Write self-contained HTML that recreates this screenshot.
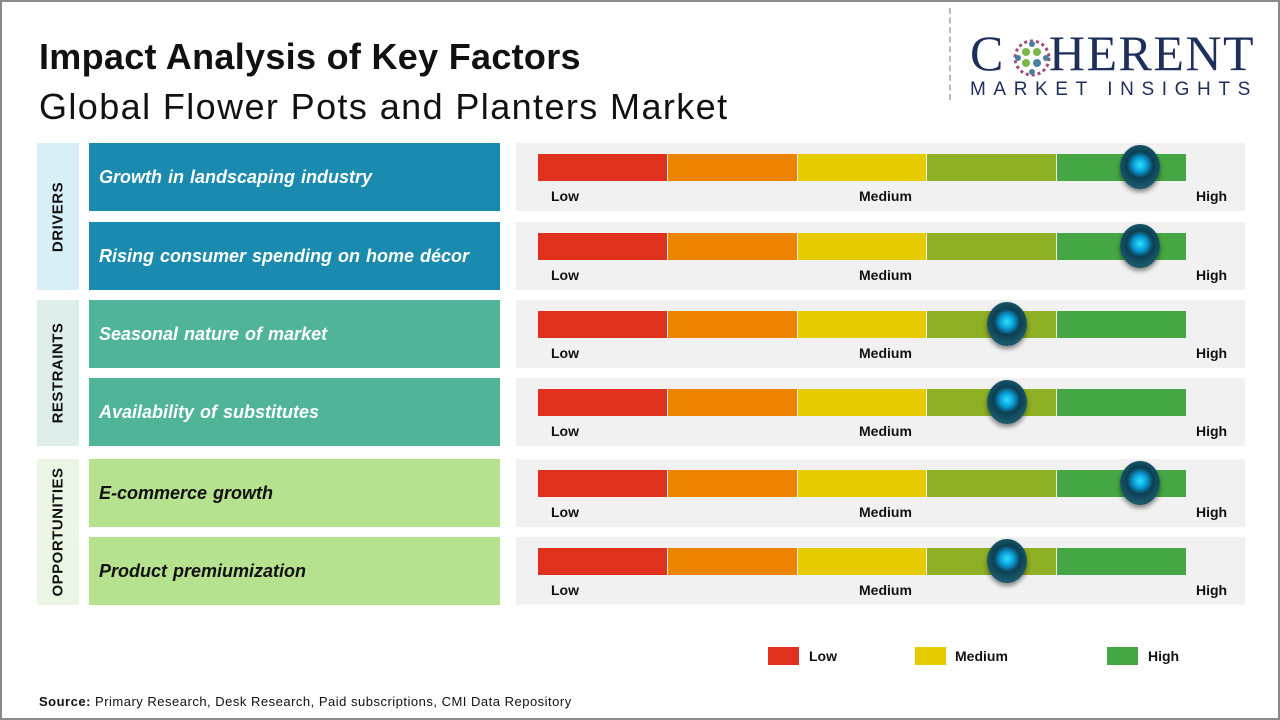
<!DOCTYPE html>
<html><head><meta charset="utf-8"><style>
*{margin:0;padding:0;box-sizing:border-box}
body{width:1280px;height:720px;background:#fff;position:relative;overflow:hidden;font-family:"Liberation Sans",sans-serif}
.frame{position:absolute;left:0;top:0;width:1280px;height:720px;border:2px solid #8a8a8a}
.a{position:absolute}
.t1{left:39px;top:36px;font-size:36px;font-weight:bold;color:#111;letter-spacing:0.3px}
.t2{left:39px;top:86px;font-size:36px;color:#111;letter-spacing:1.4px}
.cat{position:absolute;left:37px;width:42px}
.cat span{position:absolute;left:50%;top:50%;transform:translate(-50%,-50%) rotate(-90deg);font-size:15px;font-weight:bold;color:#111;white-space:nowrap;letter-spacing:0.5px}
.lab{position:absolute;left:89px;width:411px;height:68px;font-size:18px;font-style:italic;font-weight:bold;padding-left:10px;line-height:68px;word-spacing:1px}
.pan{position:absolute;left:516px;width:729px;height:68px;background:#f1f1f1}
.bar{position:absolute;left:22px;top:11px;height:27px;width:648px;display:flex}
.bar div{flex:1;margin-right:1px}
.bar div:last-child{margin-right:0}
.tk{position:absolute;top:45px;font-size:14px;font-weight:bold;color:#111}
.knob{position:absolute;width:40px;height:44px;border-radius:50%;background:radial-gradient(circle at 50% 45%,#2ee0ff 0,#0a9dd8 22%,#0d3f52 42%,#1a5a6c 70%,#0b2a35 100%);box-shadow:0 3px 5px rgba(0,0,0,.45)}
.lg{position:absolute;top:647px;width:31px;height:18px}
.lt{position:absolute;top:648px;font-size:14px;font-weight:bold;color:#111}
</style></head><body>
<div class="frame"></div>
<div class="a t1">Impact Analysis of Key Factors</div>
<div class="a t2">Global Flower Pots and Planters Market</div>
<div class="a" style="left:949px;top:8px;height:92px;border-left:2px dashed #bbb"></div>
<div class="a" style="left:970px;top:28px;font-family:'Liberation Serif',serif;font-size:50px;color:#1d2f5a;letter-spacing:1.5px;line-height:50px">C<span style="display:inline-block;width:44px"></span>HERENT</div>
<svg class="a" style="left:1012px;top:38px" width="40" height="40"><g>
<circle cx="20" cy="20" r="17" fill="none" stroke="#a04a7a" stroke-width="3" stroke-dasharray="3 3"/>
<circle cx="14" cy="14" r="4" fill="#7ab648"/><circle cx="25" cy="14" r="4" fill="#7ab648"/><circle cx="14" cy="25" r="4" fill="#7ab648"/><circle cx="25" cy="25" r="4" fill="#4a7fa0"/><circle cx="20" cy="6" r="3" fill="#4a7fa0"/><circle cx="20" cy="34" r="3" fill="#4a7fa0"/><circle cx="6" cy="20" r="3" fill="#4a7fa0"/><circle cx="34" cy="20" r="3" fill="#4a7fa0"/></g></svg>
<div class="a" style="left:970px;top:79px;font-size:19px;color:#1d2f5a;letter-spacing:7.6px">MARKET INSIGHTS</div>

<div class="cat" style="top:143px;height:147px;background:#d9eff8"><span>DRIVERS</span></div>
<div class="cat" style="top:300px;height:146px;background:#deefeb"><span>RESTRAINTS</span></div>
<div class="cat" style="top:459px;height:146px;background:#eaf6e3"><span>OPPORTUNITIES</span></div>

<div class="lab" style="top:143px;background:#1a8aae;color:#fff">Growth in landscaping industry</div>
<div class="lab" style="top:222px;background:#1a8aae;color:#fff">Rising consumer spending on home décor</div>
<div class="lab" style="top:300px;background:#50b598;color:#fff">Seasonal nature of market</div>
<div class="lab" style="top:378px;background:#50b598;color:#fff">Availability of substitutes</div>
<div class="lab" style="top:459px;background:#b6e18f;color:#111">E-commerce growth</div>
<div class="lab" style="top:537px;background:#b6e18f;color:#111">Product premiumization</div>

<div id="pans"></div>
<script>
var tops=[143,222,300,378,459,537],kx=[1140,1140,1007,1007,1140,1007],h='';
for(var i=0;i<6;i++){h+='<div class="pan" style="top:'+tops[i]+'px"><div class="bar"><div style="background:#e0301e"></div><div style="background:#ec8400"></div><div style="background:#e4cc00"></div><div style="background:#8faf25"></div><div style="background:#45a743"></div></div><span class="tk" style="left:35px">Low</span><span class="tk" style="left:343px">Medium</span><span class="tk" style="left:680px">High</span><div class="knob" style="left:'+(kx[i]-516-20)+'px;top:2px"></div></div>';}
document.getElementById('pans').innerHTML=h;
</script>

<div class="lg" style="left:768px;background:#e0301e"></div><div class="lt" style="left:809px">Low</div>
<div class="lg" style="left:915px;background:#e4cc00"></div><div class="lt" style="left:955px">Medium</div>
<div class="lg" style="left:1107px;background:#45a743"></div><div class="lt" style="left:1148px">High</div>

<div class="a" style="left:39px;top:694px;font-size:13px;color:#111;letter-spacing:0.5px"><b>Source:</b> Primary Research, Desk Research, Paid subscriptions, CMI Data Repository</div>
</body></html>
